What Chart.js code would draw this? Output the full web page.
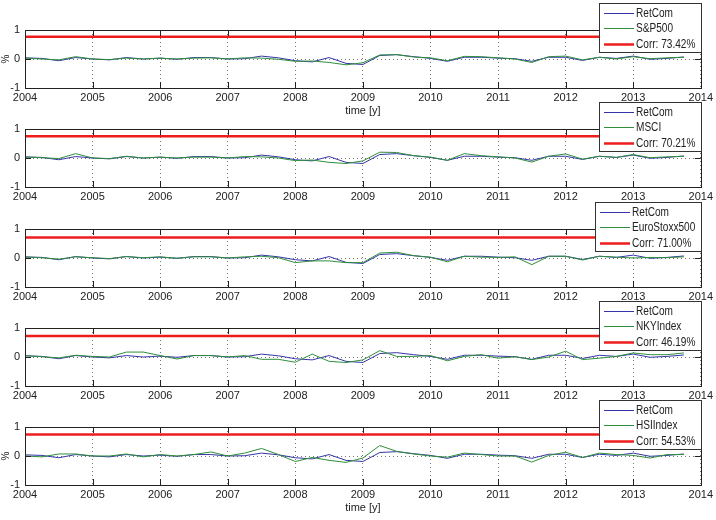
<!DOCTYPE html>
<html>
<head>
<meta charset="utf-8">
<script src="https://cdn.jsdelivr.net/npm/chart.js@4.4.0/dist/chart.umd.min.js"></script>
<style>
  html, body { margin: 0; padding: 0; background: #fff; }
  #wrap { position: relative; width: 716px; height: 520px; overflow: hidden; }
  #wrap canvas { position: absolute; left: 0; }
</style>
</head>
<body>
<div id="wrap"></div>
<script>
// quarterly time stamps
const times = [
  2004, 2004.25, 2004.5, 2004.75, 2005, 2005.25, 2005.5, 2005.75,
  2006, 2006.25, 2006.5, 2006.75, 2007, 2007.25, 2007.5, 2007.75,
  2008, 2008.25, 2008.5, 2008.75, 2009, 2009.25, 2009.5, 2009.75,
  2010, 2010.25, 2010.5, 2010.75, 2011, 2011.25, 2011.5, 2011.75,
  2012, 2012.25, 2012.5, 2012.75, 2013, 2013.25, 2013.5, 2013.75
];
const xTicks = [2004, 2005, 2006, 2007, 2008, 2009, 2010, 2011, 2012, 2013, 2014];
const yTicks = [-1, 0, 1];

const retCom = [
  0.04, 0.02, -0.06, 0.05, 0.00, -0.03, 0.05, 0.00,
  0.03, -0.01, 0.05, 0.05, 0.00, 0.01, 0.10, 0.04,
  -0.06, -0.10, 0.05, -0.15, -0.19, 0.12, 0.15, 0.08,
  0.02, -0.08, 0.06, 0.06, 0.03, 0.01, -0.08, 0.06,
  0.06, -0.05, 0.06, 0.02, 0.10, -0.01, 0.02, 0.07
];
const sp500 = [
  0.03, 0.00, -0.03, 0.08, 0.00, -0.02, 0.03, 0.00,
  0.03, 0.00, 0.03, 0.04, 0.00, 0.04, 0.03, -0.01,
  -0.08, -0.07, -0.12, -0.20, -0.13, 0.14, 0.15, 0.07,
  0.04, -0.06, 0.09, 0.08, 0.04, 0.00, -0.12, 0.08,
  0.10, -0.03, 0.06, 0.00, 0.08, 0.01, 0.04, 0.06
];
const msci = [
  0.03, 0.01, -0.02, 0.15, 0.00, -0.02, 0.06, 0.00,
  0.03, 0.00, 0.03, 0.03, 0.00, 0.05, 0.04, 0.00,
  -0.09, -0.07, -0.15, -0.19, -0.10, 0.20, 0.19, 0.08,
  0.03, -0.08, 0.15, 0.08, 0.04, 0.00, -0.14, 0.06,
  0.14, -0.04, 0.06, 0.02, 0.12, 0.01, 0.04, 0.06
];
const euroStoxx = [
  0.03, 0.01, -0.04, 0.04, 0.01, -0.02, 0.05, 0.01,
  0.04, -0.01, 0.04, 0.04, 0.00, 0.04, 0.06, 0.01,
  -0.16, -0.10, -0.10, -0.16, -0.16, 0.17, 0.20, 0.08,
  0.03, -0.13, 0.06, 0.03, 0.02, 0.04, -0.23, 0.06,
  0.06, -0.07, 0.06, 0.03, 0.00, 0.02, 0.01, 0.04
];
const nky = [
  0.05, 0.01, -0.03, 0.06, 0.02, 0.00, 0.17, 0.17,
  0.05, -0.07, 0.05, 0.05, 0.00, 0.05, -0.08, -0.08,
  -0.18, 0.10, -0.15, -0.19, -0.10, 0.22, 0.02, 0.02,
  0.05, -0.13, 0.02, 0.08, -0.04, 0.01, -0.09, 0.00,
  0.20, -0.09, -0.04, 0.02, 0.14, 0.08, 0.08, 0.14
];
const hsi = [
  0.00, -0.03, 0.07, 0.07, 0.00, 0.00, 0.07, -0.03,
  0.05, 0.00, 0.05, 0.14, 0.00, 0.10, 0.26, 0.05,
  -0.19, -0.05, -0.15, -0.22, -0.07, 0.36, 0.16, 0.07,
  0.00, -0.04, 0.10, 0.05, 0.00, 0.00, -0.21, 0.02,
  0.13, -0.05, 0.10, 0.05, 0.02, -0.07, 0.05, 0.05
];

const indexNames = ['S&P500', 'MSCI', 'EuroStoxx500', 'NKYIndex', 'HSIIndex'];
const indexSeries = [sp500, msci, euroStoxx, nky, hsi];
const corrValues = [73.42, 70.21, 71.00, 46.19, 54.53];
const redLevels = [0.77, 0.75, 0.71, 0.72, 0.74];

const FONT = "'Liberation Sans Narrow', 'Arial Narrow', 'Liberation Sans', Arial, sans-serif";
const BLUE = '#3535a8';
const GREEN = '#2f8f3a';
const RED = '#ee1d1d';
const SQUEEZE = 0.84; // legend text is narrow in the original

// frame, inward ticks and the boxed legend, matlab style
const matlabAxes = {
  id: 'matlabAxes',
  afterDraw(chart) {
    const { ctx, chartArea: a, scales } = chart;
    ctx.save();
    ctx.strokeStyle = '#222';
    ctx.lineWidth = 1;
    ctx.beginPath();
    xTicks.forEach(v => {
      const px = Math.round(scales.x.getPixelForValue(v)) + 0.5;
      ctx.moveTo(px, a.top); ctx.lineTo(px, a.top + 6);
      ctx.moveTo(px, a.bottom); ctx.lineTo(px, a.bottom - 6);
    });
    yTicks.forEach(v => {
      const py = Math.round(scales.y.getPixelForValue(v)) + 0.5;
      ctx.moveTo(a.left, py); ctx.lineTo(a.left + 6, py);
      ctx.moveTo(a.right, py); ctx.lineTo(a.right - 6, py);
    });
    ctx.stroke();
    ctx.strokeRect(Math.round(a.left) + 0.5, Math.round(a.top) + 0.5,
                   Math.round(a.right - a.left), Math.round(a.bottom - a.top));

    // legend box
    ctx.font = '12px ' + FONT;
    const sets = chart.data.datasets;
    const textW = SQUEEZE * Math.max(...sets.map(d => ctx.measureText(d.label).width));
    const w = Math.round(38 + textW + 6);
    const h = 50;
    const right = Math.round(a.right) + 1;
    const left = right - w;
    const top = Math.round(a.top) - 27;
    ctx.fillStyle = '#fff';
    ctx.fillRect(left, top, w, h);
    ctx.strokeStyle = '#333';
    ctx.strokeRect(left + 0.5, top + 0.5, w - 1, h - 1);
    const rows = [10, 25, 41];
    sets.forEach((d, i) => {
      const yy = top + rows[i] + 0.5;
      ctx.strokeStyle = d.borderColor;
      ctx.lineWidth = d.borderWidth;
      ctx.beginPath();
      ctx.moveTo(left + 5, yy); ctx.lineTo(left + 35, yy);
      ctx.stroke();
      ctx.save();
      ctx.translate(left + 37, yy);
      ctx.scale(SQUEEZE, 1);
      ctx.fillStyle = '#222';
      ctx.textBaseline = 'middle';
      ctx.textAlign = 'left';
      ctx.fillText(d.label, 0, 0);
      ctx.restore();
    });
    ctx.restore();
  }
};

const wrap = document.getElementById('wrap');

indexSeries.forEach((vals, p) => {
  const plotTop = Math.round(30 + p * 99.25);
  const canvas = document.createElement('canvas');
  canvas.width = 716;
  canvas.height = 130;
  canvas.style.top = (plotTop - 30) + 'px';
  canvas.style.width = '716px';
  canvas.style.height = '130px';
  wrap.appendChild(canvas);

  const withLabels = (p === 0 || p === indexSeries.length - 1);

  new Chart(canvas.getContext('2d'), {
    type: 'line',
    data: {
      datasets: [
        {
          label: 'RetCom',
          data: times.map((t, i) => ({ x: t, y: retCom[i] })),
          borderColor: BLUE, borderWidth: 1, order: 2
        },
        {
          label: indexNames[p],
          data: times.map((t, i) => ({ x: t, y: vals[i] })),
          borderColor: GREEN, borderWidth: 1, order: 1
        },
        {
          label: 'Corr: ' + corrValues[p].toFixed(2) + '%',
          data: [{ x: xTicks[0], y: redLevels[p] }, { x: xTicks[xTicks.length - 1], y: redLevels[p] }],
          borderColor: RED, borderWidth: 2.5, order: 0
        }
      ]
    },
    options: {
      responsive: false,
      maintainAspectRatio: false,
      devicePixelRatio: 1,
      animation: false,
      layout: { padding: { top: 30, left: 0, right: 13, bottom: 0 } },
      elements: {
        point: { radius: 0 },
        line: { tension: 0, fill: false }
      },
      scales: {
        x: {
          type: 'linear',
          min: xTicks[0],
          max: xTicks[xTicks.length - 1],
          afterBuildTicks: s => { s.ticks = xTicks.map(v => ({ value: v })); },
          afterFit: s => { s.height = 42; },
          ticks: {
            autoSkip: false, maxRotation: 0, padding: 3,
            color: '#222', font: { family: FONT, size: 11 },
            callback: v => String(v)
          },
          grid: { color: '#777', lineWidth: 1, drawTicks: false },
          border: { display: false, dash: [1, 3] },
          title: {
            display: withLabels, text: 'time [y]', color: '#222',
            font: { family: FONT, size: 11 }, padding: { top: 0, bottom: 12 }
          }
        },
        y: {
          min: yTicks[0],
          max: yTicks[yTicks.length - 1],
          afterBuildTicks: s => { s.ticks = yTicks.map(v => ({ value: v })); },
          afterFit: s => { s.width = 25; },
          ticks: {
            padding: 5, color: '#222', font: { family: FONT, size: 11 },
            callback: v => String(v)
          },
          grid: { color: '#777', lineWidth: 1, drawTicks: false },
          border: { display: false, dash: [1, 3] },
          title: {
            display: withLabels, text: '%', color: '#222',
            font: { family: FONT, size: 10 }, padding: 0
          }
        }
      },
      plugins: {
        legend: { display: false },
        tooltip: { enabled: false }
      }
    },
    plugins: [matlabAxes]
  });
});
</script>
</body>
</html>
